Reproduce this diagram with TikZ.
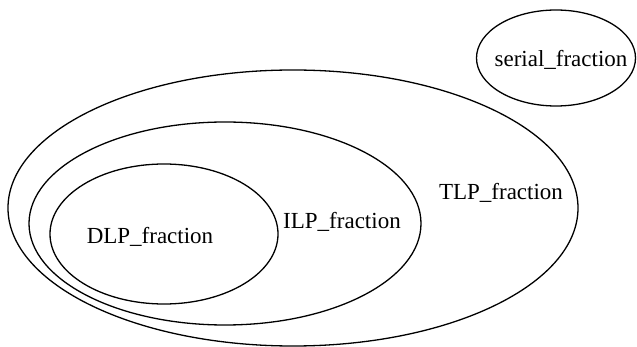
\documentclass[tikz,border=0pt]{standalone}
\usepackage{fontspec}
\setmainfont{Liberation Serif}
\usetikzlibrary{shapes.geometric}
\begin{document}
\begin{tikzpicture}[x=1pt,y=-1pt,
  region/.style={draw=black,line width=1.3pt,ellipse,inner sep=0pt},
  lbl/.style={font=\fontsize{23}{27}\selectfont,inner sep=0pt}]
\useasboundingbox (0,0) rectangle (637,347);
\node[region,minimum width=570pt,minimum height=276pt] (tlp) at (293,208) {};
\node[region,minimum width=392pt,minimum height=203pt] (ilp) at (225,223.5) {};
\node[region,minimum width=228pt,minimum height=140pt] (dlp) at (164,234) {};
\node[region,minimum width=159pt,minimum height=96pt] (serial) at (556,58) {};
\node[lbl] (dlpt) at (150,237) {DLP\_fraction};
\node[lbl] (ilpt) at (342,222) {ILP\_fraction};
\node[lbl] (tlpt) at (501,193) {TLP\_fraction};
\node[lbl] (serialt) at (561,60) {serial\_fraction};
\end{tikzpicture}
\end{document}
